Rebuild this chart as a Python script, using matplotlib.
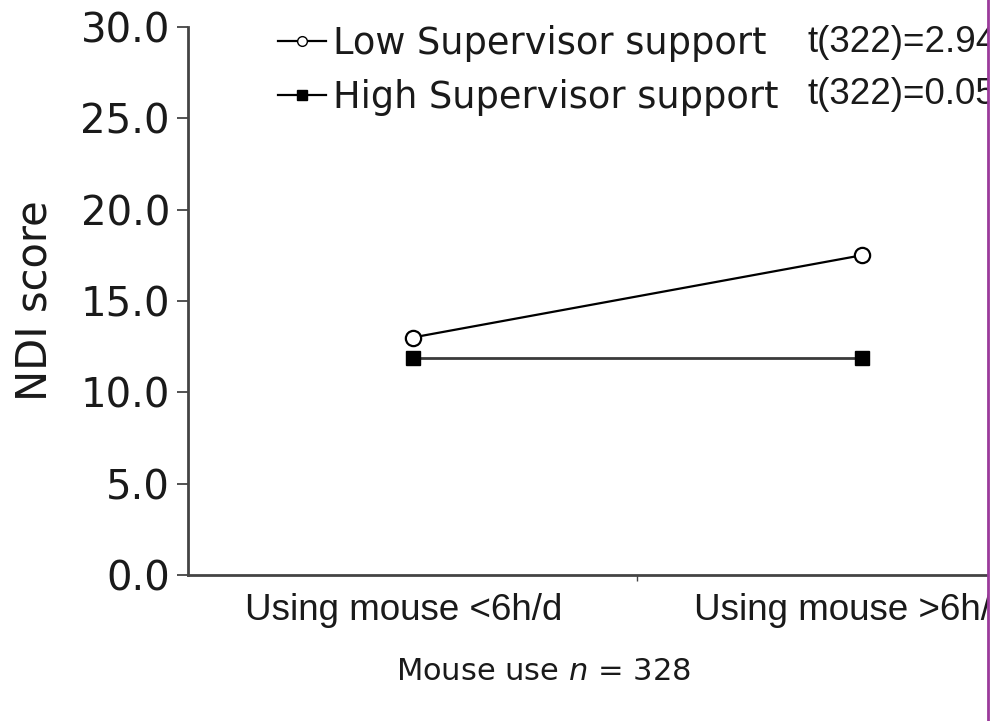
import matplotlib
matplotlib.use("Agg")
import matplotlib.pyplot as plt
import matplotlib.transforms as mtransforms
from matplotlib.lines import Line2D
from matplotlib.patches import Rectangle

# --------------------------- DATA --------------------------- #

categories = ["Using mouse <6h/d", "Using mouse >6h/d"]
low_support = [13.0, 17.5]
high_support = [11.9, 11.9]
series_names = ["Low Supervisor support", "High Supervisor support"]
t_stats = ["t(322)=2.94", "t(322)=0.05"]
y_ticks = [0, 5, 10, 15, 20, 25, 30]

# --------------------------- PLOTTING --------------------------- #

W, H = 999, 721
fig = plt.figure(figsize=(W / 100, H / 100), dpi=100)
fig.patch.set_facecolor("white")

# axes run past the right edge, the original figure is cropped there
ax = fig.add_axes([188 / W, 146 / H, 898 / W, 548 / H])

xpos = [0.5, 1.5]
ax.plot(xpos, high_support, color="#3a3a3a", lw=2, marker="s", markersize=10,
        markerfacecolor="black", markeredgecolor="black", label=series_names[1],
        clip_on=False, zorder=3)
ax.plot(xpos, low_support, color="black", lw=1.6, marker="o", markersize=11,
        markerfacecolor="white", markeredgecolor="black", markeredgewidth=1.6,
        label=series_names[0], clip_on=False, zorder=4)

ax.set_xlim(0, 2)
ax.set_ylim(0, 30)
ax.set_yticks(y_ticks)
ax.set_yticklabels([f"{v:.1f}" for v in y_ticks], fontsize=29, color="#1a1a1a")
ax.set_xticks(xpos)
ax.set_xticklabels(categories, fontsize=26.5, family="Liberation Sans", color="#1a1a1a")
ax.set_xticks([1.0], minor=True)
ax.tick_params(axis="x", which="major", length=0, pad=13)
ax.tick_params(axis="x", which="minor", length=4, width=1, color="#444444", direction="out")
ax.tick_params(axis="y", length=8, width=1.3, color="#444444", pad=5)

# category labels sit a little left of the points in the original
shift = mtransforms.ScaledTranslation(-9 / 100, 0, fig.dpi_scale_trans)
for lbl in ax.get_xticklabels():
    lbl.set_transform(lbl.get_transform() + shift)

for side in ["top", "right"]:
    ax.spines[side].set_visible(False)
ax.spines["left"].set_color("#444444")
ax.spines["left"].set_linewidth(2)
ax.spines["bottom"].set_color("#444444")
ax.spines["bottom"].set_linewidth(2)

ax.set_ylabel("NDI score", fontsize=30, color="#1a1a1a", labelpad=18)
fig.text(543 / W, 1 - 671 / H, "Mouse use $\\it{n}$ = 328", fontsize=22,
         ha="center", va="center", color="#1a1a1a")

handles = [
    Line2D([], [], color="black", lw=1.6, marker="o", markersize=7,
           markerfacecolor="white", markeredgecolor="black"),
    Line2D([], [], color="black", lw=1.6, marker="s", markersize=7,
           markerfacecolor="black", markeredgecolor="black"),
]
fig.legend(handles, series_names, loc="upper left",
           bbox_to_anchor=(278 / W, 1 - 25 / H), frameon=False,
           fontsize=26.5, handlelength=1.3, handletextpad=0.2,
           labelspacing=0.45, borderpad=0, borderaxespad=0,
           labelcolor="#1a1a1a")

for i, t in enumerate(t_stats):
    fig.text(807 / W, 1 - (42 + 53 * i) / H, t, fontsize=26.5,
             family="Liberation Sans", ha="left", va="center", color="#1a1a1a")

# cropped right edge with the purple border
fig.patches.append(Rectangle((989 / W, 0), 10 / W, 1, transform=fig.transFigure,
                             facecolor="white", edgecolor="none", zorder=10))
fig.lines.append(Line2D([988 / W, 988 / W], [0, 1], transform=fig.transFigure,
                        color="#9b3a9b", lw=2, zorder=11))

fig.savefig("out.png", dpi=100)
